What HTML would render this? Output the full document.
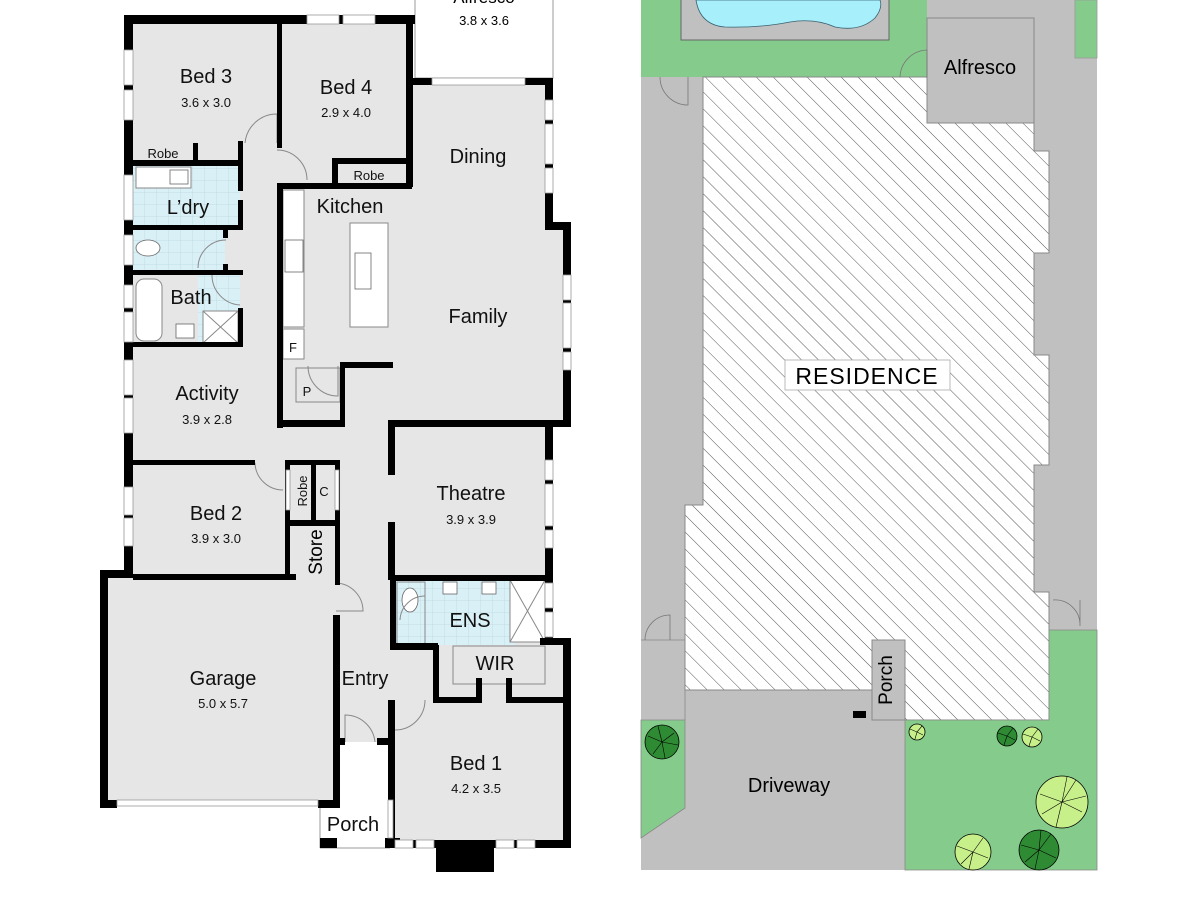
<!DOCTYPE html>
<html><head><meta charset="utf-8"><style>
html,body{margin:0;padding:0;background:#fff;}
svg{display:block;font-family:"Liberation Sans",Arial,sans-serif;}
</style></head><body>
<svg width="1200" height="900" viewBox="0 0 1200 900" xmlns="http://www.w3.org/2000/svg">
<defs>
<pattern id="tile" width="12" height="12" patternUnits="userSpaceOnUse"><rect width="12" height="12" fill="#daf0f7"/><path d="M0 0H12M0 0V12" stroke="#bcd6df" stroke-width="0.8"/></pattern>
<pattern id="hatch" width="12" height="12" patternUnits="userSpaceOnUse" patternTransform="rotate(-45)"><rect width="12" height="12" fill="#fff"/><line x1="0" y1="0" x2="0" y2="12" stroke="#555" stroke-width="1"/></pattern>
</defs>

<rect x="415" y="-2" width="138" height="80" fill="#fff" stroke="#999" stroke-width="1"/>
<text x="484" y="3" font-size="17" text-anchor="middle">Alfresco</text>
<text x="484" y="25" font-size="13" text-anchor="middle">3.8 x 3.6</text>

<g fill="#e6e6e6">
<rect x="133" y="24" width="280" height="440"/>
<rect x="282" y="84" width="265" height="345"/>
<rect x="545" y="222" width="22" height="205"/>
<rect x="388" y="425" width="162" height="155"/>
<rect x="133" y="462" width="205" height="118"/>
<rect x="108" y="576" width="228" height="226"/>
<rect x="335" y="420" width="60" height="322"/>
<rect x="390" y="640" width="176" height="202"/>
</g>
<g fill="url(#tile)">
<rect x="133" y="165" width="107" height="62"/>
<rect x="133" y="230" width="92" height="42"/>
<rect x="198" y="275" width="42" height="70"/>
<rect x="395" y="580" width="120" height="65"/>
</g>
<rect x="338" y="742" width="50" height="105" fill="#fff"/>
<rect x="320" y="808" width="70" height="40" fill="#fff"/>
<line x1="320" y1="848" x2="390" y2="848" stroke="#999"/>
<line x1="320" y1="808" x2="320" y2="848" stroke="#999"/>

<g fill="#fff" stroke="#888" stroke-width="1">
<rect x="283" y="190" width="21" height="137"/>
<rect x="283" y="329" width="21" height="30"/>
<rect x="350" y="223" width="38" height="104"/>
<rect x="136" y="167" width="55" height="21"/>
<rect x="136" y="279" width="26" height="62" rx="8"/>
<rect x="203" y="311" width="35" height="32"/>
<rect x="397" y="582" width="28" height="62" fill="none"/>
<rect x="510" y="580" width="35" height="62"/>
<rect x="453" y="646" width="92" height="38" fill="none"/>
<rect x="296" y="368" width="44" height="34" fill="none"/>
</g>
<path d="M203 311L238 343M238 311L203 343M510 580L545 642M545 580L510 642" stroke="#888"/>
<rect x="285" y="240" width="18" height="32" fill="#fff" stroke="#666" stroke-width="0.8"/>
<rect x="355" y="253" width="16" height="36" fill="#fff" stroke="#666" stroke-width="0.8"/>
<rect x="170" y="170" width="18" height="14" fill="#fff" stroke="#666" stroke-width="0.8"/>
<rect x="176" y="324" width="18" height="14" fill="#fff" stroke="#666" stroke-width="0.8"/>
<ellipse cx="148" cy="248" rx="12" ry="8" fill="#fff" stroke="#666" stroke-width="0.8"/>
<ellipse cx="410" cy="600" rx="8" ry="12" fill="#fff" stroke="#666" stroke-width="0.8"/>
<rect x="443" y="582" width="14" height="12" fill="#fff" stroke="#666" stroke-width="0.8"/>
<rect x="482" y="582" width="14" height="12" fill="#fff" stroke="#666" stroke-width="0.8"/>

<g fill="none" stroke="#888" stroke-width="1">
<path d="M245 143A32 32 0 0 1 277 114V143"/>
<path d="M277 150A30 30 0 0 1 307 180"/>
<path d="M198 268A28 28 0 0 1 226 240"/>
<path d="M212 275A30 30 0 0 0 240 305"/>
<path d="M308 366A30 30 0 0 0 338 396V366"/>
<path d="M255 463A28 28 0 0 0 283 490"/>
<path d="M336 583A28 28 0 0 1 363 611H336"/>
<path d="M395 730A30 30 0 0 0 425 700"/>
<path d="M345 742V715A30 30 0 0 1 375 742"/>
<path d="M400 620A25 25 0 0 1 425 596"/>
</g>

<g fill="#000">
<rect x="124" y="15" width="291" height="9"/>
<rect x="124" y="15" width="9" height="450"/>
<rect x="124" y="462" width="9" height="116"/>
<rect x="100" y="570" width="33" height="8"/>
<rect x="100" y="570" width="8" height="238"/>
<rect x="100" y="800" width="17" height="8"/>
<rect x="318" y="800" width="22" height="8"/>
<rect x="333" y="615" width="7" height="193"/>
<rect x="333" y="738" width="12" height="7"/>
<rect x="377" y="738" width="18" height="7"/>
<rect x="388" y="700" width="7" height="142"/>
<rect x="320" y="838" width="17" height="10"/>
<rect x="385" y="838" width="15" height="10"/>
<rect x="390" y="840" width="181" height="8"/>
<rect x="436" y="840" width="58" height="32"/>
<rect x="563" y="638" width="8" height="210"/>
<rect x="540" y="638" width="31" height="7"/>
<rect x="390" y="575" width="163" height="6"/>
<rect x="390" y="575" width="6" height="75"/>
<rect x="390" y="643" width="48" height="7"/>
<rect x="433" y="645" width="6" height="58"/>
<rect x="433" y="697" width="48" height="6"/>
<rect x="476" y="678" width="6" height="25"/>
<rect x="506" y="678" width="6" height="25"/>
<rect x="506" y="697" width="60" height="6"/>
<rect x="388" y="420" width="165" height="7"/>
<rect x="388" y="420" width="7" height="55"/>
<rect x="388" y="522" width="7" height="58"/>
<rect x="545" y="78" width="8" height="150"/>
<rect x="545" y="222" width="26" height="8"/>
<rect x="563" y="222" width="8" height="205"/>
<rect x="545" y="420" width="26" height="7"/>
<rect x="545" y="420" width="8" height="220"/>
<rect x="412" y="78" width="20" height="7"/>
<rect x="525" y="78" width="28" height="7"/>
<rect x="406" y="15" width="7" height="172"/>
<rect x="332" y="158" width="80" height="6"/>
<rect x="332" y="158" width="6" height="30"/>
<rect x="277" y="183" width="135" height="6"/>
<rect x="277" y="24" width="5" height="124"/>
<rect x="133" y="160" width="110" height="6"/>
<rect x="193" y="143" width="5" height="22"/>
<rect x="238" y="141" width="5" height="50"/>
<rect x="238" y="200" width="5" height="30"/>
<rect x="133" y="225" width="110" height="5"/>
<rect x="223" y="228" width="5" height="10"/>
<rect x="223" y="264" width="5" height="11"/>
<rect x="133" y="270" width="110" height="5"/>
<rect x="238" y="308" width="5" height="39"/>
<rect x="133" y="342" width="110" height="5"/>
<rect x="277" y="188" width="6" height="240"/>
<rect x="277" y="420" width="68" height="7"/>
<rect x="340" y="362" width="53" height="6"/>
<rect x="340" y="362" width="5" height="65"/>
<rect x="133" y="460" width="122" height="5"/>
<rect x="285" y="460" width="55" height="5"/>
<rect x="285" y="460" width="5" height="118"/>
<rect x="311" y="462" width="5" height="60"/>
<rect x="335" y="460" width="5" height="125"/>
<rect x="290" y="520" width="50" height="6"/>
<rect x="133" y="574" width="163" height="6"/>
</g>
<g fill="#fff" stroke="#999" stroke-width="0.8">
<rect x="124" y="50" width="9" height="35"/><rect x="124" y="90" width="9" height="30"/>
<rect x="124" y="175" width="9" height="45"/><rect x="124" y="235" width="9" height="30"/>
<rect x="124" y="285" width="9" height="23"/><rect x="124" y="312" width="9" height="30"/>
<rect x="124" y="360" width="9" height="35"/><rect x="124" y="398" width="9" height="35"/>
<rect x="124" y="487" width="9" height="28"/><rect x="124" y="518" width="9" height="28"/>
<rect x="307" y="15" width="32" height="9"/><rect x="343" y="15" width="32" height="9"/>
<rect x="432" y="78" width="93" height="7"/>
<rect x="545" y="100" width="8" height="20"/><rect x="545" y="124" width="8" height="40"/><rect x="545" y="168" width="8" height="25"/>
<rect x="563" y="275" width="8" height="25"/><rect x="563" y="303" width="8" height="45"/><rect x="563" y="352" width="8" height="18"/>
<rect x="545" y="460" width="8" height="20"/><rect x="545" y="484" width="8" height="42"/><rect x="545" y="530" width="8" height="18"/>
<rect x="545" y="583" width="8" height="25"/><rect x="545" y="612" width="8" height="25"/>
<rect x="395" y="840" width="18" height="8"/><rect x="416" y="840" width="18" height="8"/>
<rect x="496" y="840" width="18" height="8"/><rect x="517" y="840" width="18" height="8"/>
<rect x="388" y="800" width="5" height="38"/>
<rect x="117" y="800" width="201" height="6"/>
<rect x="286" y="470" width="4" height="40"/><rect x="335" y="470" width="4" height="40"/>
</g>

<g font-size="20" text-anchor="middle" fill="#111">
<text x="206" y="83">Bed 3</text>
<text x="346" y="94">Bed 4</text>
<text x="478" y="163">Dining</text>
<text x="350" y="213">Kitchen</text>
<text x="188" y="214">L’dry</text>
<text x="191" y="304">Bath</text>
<text x="478" y="323">Family</text>
<text x="207" y="400">Activity</text>
<text x="471" y="500">Theatre</text>
<text x="216" y="520">Bed 2</text>
<text x="470" y="627">ENS</text>
<text x="495" y="670">WIR</text>
<text x="223" y="685">Garage</text>
<text x="365" y="685">Entry</text>
<text x="476" y="770">Bed 1</text>
<text x="353" y="831">Porch</text>
</g>
<g font-size="13" text-anchor="middle" fill="#111">
<text x="206" y="107">3.6 x 3.0</text>
<text x="346" y="117">2.9 x 4.0</text>
<text x="207" y="424">3.9 x 2.8</text>
<text x="471" y="524">3.9 x 3.9</text>
<text x="216" y="543">3.9 x 3.0</text>
<text x="223" y="708">5.0 x 5.7</text>
<text x="476" y="793">4.2 x 3.5</text>
<text x="163" y="158">Robe</text>
<text x="369" y="180">Robe</text>
<text x="293" y="352">F</text>
<text x="307" y="396">P</text>
<text x="324" y="496">C</text>
<text x="307" y="491" transform="rotate(-90 307 491)">Robe</text>
</g>
<text x="322" y="552" font-size="19" text-anchor="middle" transform="rotate(-90 322 552)">Store</text>
<text x="328" y="915" font-size="20" text-anchor="middle">Floor Plan</text>

<rect x="641" y="0" width="456" height="870" fill="#c0c0c0"/>
<rect x="641" y="0" width="286" height="77" fill="#85cc8c"/>
<rect x="1075" y="0" width="22" height="58" fill="#85cc8c" stroke="#999" stroke-width="0.8"/>
<rect x="681" y="-1" width="208" height="41" fill="#c0c0c0" stroke="#666" stroke-width="1"/>
<path d="M696 0Q700 25 725 27Q760 28 790 22Q815 18 835 27Q860 32 875 18Q883 8 880 0Z" fill="#a8effc" stroke="#3a6070" stroke-width="0.8"/>
<rect x="927" y="18" width="107" height="105" fill="#c0c0c0" stroke="#888" stroke-width="1"/>
<text x="980" y="74" font-size="20" text-anchor="middle">Alfresco</text>
<path d="M703 77H927V123H1034V151H1049V253H1034V355H1049V465H1034V592H1049V720H905V640H872V690H685V505H703Z" fill="url(#hatch)" stroke="#888" stroke-width="1"/>
<rect x="785" y="360" width="165" height="30" fill="#fff" stroke="#aaa" stroke-width="0.8"/>
<text x="867" y="384" font-size="23" text-anchor="middle" letter-spacing="1">RESIDENCE</text>
<rect x="872" y="640" width="33" height="80" fill="#c0c0c0" stroke="#888" stroke-width="1"/>
<text x="892" y="680" font-size="19" text-anchor="middle" transform="rotate(-90 892 680)">Porch</text>
<rect x="853" y="711" width="13" height="7" fill="#000"/>
<path d="M905 720H1049V630H1097V870H905Z" fill="#85cc8c" stroke="#888" stroke-width="0.8"/>
<path d="M641 720H685V808L641 838Z" fill="#85cc8c" stroke="#888" stroke-width="0.8"/>
<line x1="641" y1="640" x2="685" y2="640" stroke="#888" stroke-width="0.8"/>
<line x1="685" y1="690" x2="685" y2="720" stroke="#888" stroke-width="0.8"/>
<text x="789" y="792" font-size="20" text-anchor="middle">Driveway</text>
<g fill="none" stroke="#777" stroke-width="0.8">
<path d="M660 77A28 28 0 0 0 688 105V77"/>
<path d="M900 77A28 28 0 0 1 927 50V77"/>
<path d="M645 640A25 25 0 0 1 670 615V640"/>
<path d="M1053 600A25 25 0 0 1 1080 626V600"/>
</g>
<g stroke="#000" stroke-width="0.8">
<circle cx="662" cy="742" r="17" fill="#2f8a34"/>
<circle cx="917" cy="732" r="8" fill="#c8f08a"/>
<circle cx="1007" cy="736" r="10" fill="#2f8a34"/>
<circle cx="1032" cy="737" r="10" fill="#c8f08a"/>
<circle cx="1062" cy="802" r="26" fill="#c8f08a"/>
<circle cx="973" cy="852" r="18" fill="#c8f08a"/>
<circle cx="1039" cy="850" r="20" fill="#2f8a34"/>
</g>
<g stroke="#000" stroke-width="0.6" fill="none">
<path d="M662 742l-14 -6M662 742l12 -9M662 742l3 16M662 742l-9 12M662 742l16 3M662 742l-4-16"/>
<path d="M1062 802l-22-8M1062 802l14-22M1062 802l20 10M1062 802l-6 25M1062 802l-20 12M1062 802l5-25M1062 802l24-6"/>
<path d="M973 852l-16-6M973 852l10-14M973 852l15 6M973 852l-4 17M973 852l-12 12"/>
<path d="M1039 850l-18-5M1039 850l12-16M1039 850l17 8M1039 850l-4 19M1039 850l-14 12M1039 850l2-20"/>
<path d="M1007 736l-9-3M1007 736l6-8M1007 736l8 4M1007 736l-3 9M1032 737l-9-3M1032 737l6-8M1032 737l8 4M1032 737l-3 9M917 732l-7-3M917 732l5-6M917 732l6 3M917 732l-2 7"/>
</g>
<text x="850" y="915" font-size="20" text-anchor="middle">Site Plan</text>
</svg>
</body></html>
